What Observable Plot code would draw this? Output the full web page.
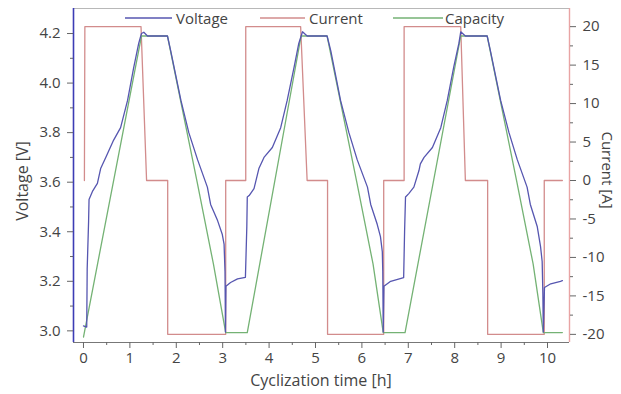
<!DOCTYPE html>
<html><head><meta charset="utf-8">
<script src="https://cdn.jsdelivr.net/npm/d3@7"></script>
<script src="https://cdn.jsdelivr.net/npm/@observablehq/plot@0.6"></script>
<style>
body{margin:0;background:#fff;}
#chart{width:621px;height:394px;overflow:hidden;}
</style></head><body><div id="chart"></div>
<script>
// ---- data ----
const seriesNames = ["Voltage", "Current", "Capacity"];

const voltageTime = [0.00,0.07,0.08,0.11,0.12,0.20,0.30,0.37,0.48,0.65,0.80,0.95,1.08,1.19,1.25,1.30,1.38,1.81,1.88,2.10,2.27,2.46,2.67,2.74,2.89,2.99,3.03,3.05,3.06,3.07,3.17,3.32,3.49,
  3.52,3.53,3.57,3.675,3.78,3.89,4.07,4.25,4.39,4.54,4.64,4.72,4.82,5.25,5.33,5.54,5.72,5.90,6.12,6.19,6.33,6.40,6.44,6.45,6.46,6.475,6.62,6.90,
  6.92,6.94,7.01,7.12,7.23,7.26,7.34,7.52,7.70,7.84,7.98,8.09,8.13,8.23,8.70,8.77,8.99,9.17,9.35,9.56,9.63,9.78,9.85,9.885,9.90,9.91,9.935,10.07,10.28,10.32];
const voltageValue = [3.02,3.015,3.25,3.44,3.53,3.565,3.595,3.655,3.70,3.77,3.82,3.93,4.06,4.16,4.20,4.205,4.19,4.19,4.13,3.93,3.80,3.69,3.58,3.51,3.445,3.39,3.35,3.24,2.995,3.18,3.195,3.21,3.216,
  3.42,3.54,3.546,3.574,3.655,3.70,3.74,3.82,3.93,4.065,4.16,4.207,4.19,4.19,4.13,3.93,3.80,3.69,3.58,3.51,3.43,3.38,3.32,3.24,2.995,3.18,3.20,3.215,
  3.40,3.54,3.554,3.58,3.647,3.674,3.70,3.74,3.82,3.93,4.065,4.16,4.207,4.19,4.19,4.13,3.93,3.80,3.69,3.58,3.51,3.42,3.34,3.28,3.15,2.995,3.175,3.19,3.20,3.203];

const currentTime = [0.02,0.03,1.24,1.36,1.815,1.815,3.065,3.065,3.497,3.497,4.68,4.82,5.26,5.26,6.47,6.47,6.91,6.91,8.13,8.23,8.71,8.71,9.93,9.93,10.32];
const currentValue = [0,20,20,0,0,-20,-20,0,0,20,20,0,0,-20,-20,0,0,20,20,0,0,-20,-20,0,0];

const capacityTime = [0.00,1.25,1.81,2.45,2.80,3.065,3.53,4.69,5.25,5.89,6.24,6.46,6.93,8.13,8.70,9.34,9.69,9.91,10.32];
const capacityValue = [-0.36,23.94,23.94,12.14,5.54,0,0,23.94,23.94,12.14,5.54,0,0,23.94,23.94,12.14,5.54,0,0];

const xTicks = [0,1,2,3,4,5,6,7,8,9,10];
const xMinorTicks = [0.5,1.5,2.5,3.5,4.5,5.5,6.5,7.5,8.5,9.5];
const voltageTicks = [3.0,3.2,3.4,3.6,3.8,4.0,4.2];
const voltageMinorTicks = [3.1,3.3,3.5,3.7,3.9,4.1];
const currentTicks = [-20,-15,-10,-5,0,5,10,15,20];
const currentMinorTicks = [-17.5,-12.5,-7.5,-2.5,2.5,7.5,12.5,17.5];

// ---- scales / mapping of secondary series onto the voltage axis ----
const xDomain = [-0.215, 10.474];
const yDomain = [2.953, 4.301];
const curToV = i => 3.6068 + 0.031048 * i;
const vToCur = v => (v - 3.6068) / 0.031048;
const capToV = c => 2.993 + 0.05 * c;

const colors = {Voltage: "#5656b0", Current: "#d28c8c", Capacity: "#74b274"};

const voltData = voltageTime.map((t, k) => ({t, v: voltageValue[k]}));
const curData = currentTime.map((t, k) => ({t, v: curToV(currentValue[k])}));
const capData = capacityTime.map((t, k) => ({t, v: capToV(capacityValue[k])}));

const W = 621, H = 394;
const mL = 73, mR = 52, mT = 8, mB = 52;
const font = "Open Sans";
const textColor = "#444";

const chart = Plot.plot({
  width: W, height: H,
  marginLeft: mL, marginRight: mR, marginTop: mT, marginBottom: mB,
  style: {fontFamily: font, fontSize: "15px", color: textColor, background: "#fff"},
  x: {domain: xDomain},
  y: {domain: yDomain},
  marks: [
    Plot.ruleY([yDomain[1]], {stroke: "#b8b8b8", strokeWidth: 1.2}),
    Plot.line(curData, {x: "t", y: "v", stroke: colors.Current, strokeWidth: 1.3}),
    Plot.line(capData, {x: "t", y: "v", stroke: colors.Capacity, strokeWidth: 1.3}),
    Plot.line(voltData, {x: "t", y: "v", stroke: colors.Voltage, strokeWidth: 1.3}),
    Plot.ruleY([yDomain[0]], {stroke: "#777", strokeWidth: 1.2}),
    Plot.ruleX([xDomain[0]], {stroke: "#3d3db5", strokeWidth: 1.6}),
    Plot.ruleX([xDomain[1]], {stroke: "#e8a4a4", strokeWidth: 1.4}),
    Plot.axisX(xTicks, {tickSize: 6, tickPadding: 4, label: null, tickFormat: d => String(d), stroke: "#666"}),
    Plot.axisX(xMinorTicks, {tickSize: 3, label: null, tickFormat: () => "", stroke: "#666"}),
    Plot.axisY(voltageTicks, {anchor: "left", tickSize: 6, tickPadding: 7, label: null, tickFormat: d => d.toFixed(1), stroke: "#666"}),
    Plot.axisY(voltageMinorTicks, {anchor: "left", tickSize: 3, label: null, tickFormat: () => "", stroke: "#666"}),
    Plot.axisY(currentTicks.map(curToV), {anchor: "right", tickSize: 6, tickPadding: 7, label: null, tickFormat: v => String(Math.round(vToCur(v))), stroke: "#666"}),
    Plot.axisY(currentMinorTicks.map(curToV), {anchor: "right", tickSize: 3, label: null, tickFormat: () => "", stroke: "#666"})
  ]
});
document.getElementById("chart").appendChild(chart);

// ---- axis titles and legend ----
const svg = d3.select(chart);
const titles = [
  {text: "Cyclization time [h]", x: (mL + W - mR) / 2, y: 380, rot: 0, size: 16},
  {text: "Voltage [V]", x: 22, y: 181, rot: -90, size: 16},
  {text: "Current [A]", x: 608, y: 170, rot: 90, size: 15}
];
for (const d of titles) {
  svg.append("text")
    .attr("transform", `translate(${d.x},${d.y}) rotate(${d.rot})`)
    .attr("text-anchor", "middle").attr("dominant-baseline", "central")
    .attr("font-family", font).attr("font-size", d.size).attr("fill", textColor)
    .text(d.text);
}
const legendPos = [
  {x1: 125, x2: 172, tx: 176},
  {x1: 260, x2: 305, tx: 309},
  {x1: 393, x2: 443, tx: 445}
];
seriesNames.forEach((name, k) => {
  const p = legendPos[k];
  svg.append("line").attr("x1", p.x1).attr("x2", p.x2).attr("y1", 18).attr("y2", 18)
    .attr("stroke", colors[name]).attr("stroke-width", 1.4);
  svg.append("text").attr("x", p.tx).attr("y", 18)
    .attr("text-anchor", "start").attr("dominant-baseline", "central")
    .attr("font-family", font).attr("font-size", 15).attr("fill", textColor).text(name);
});
</script></body></html>
